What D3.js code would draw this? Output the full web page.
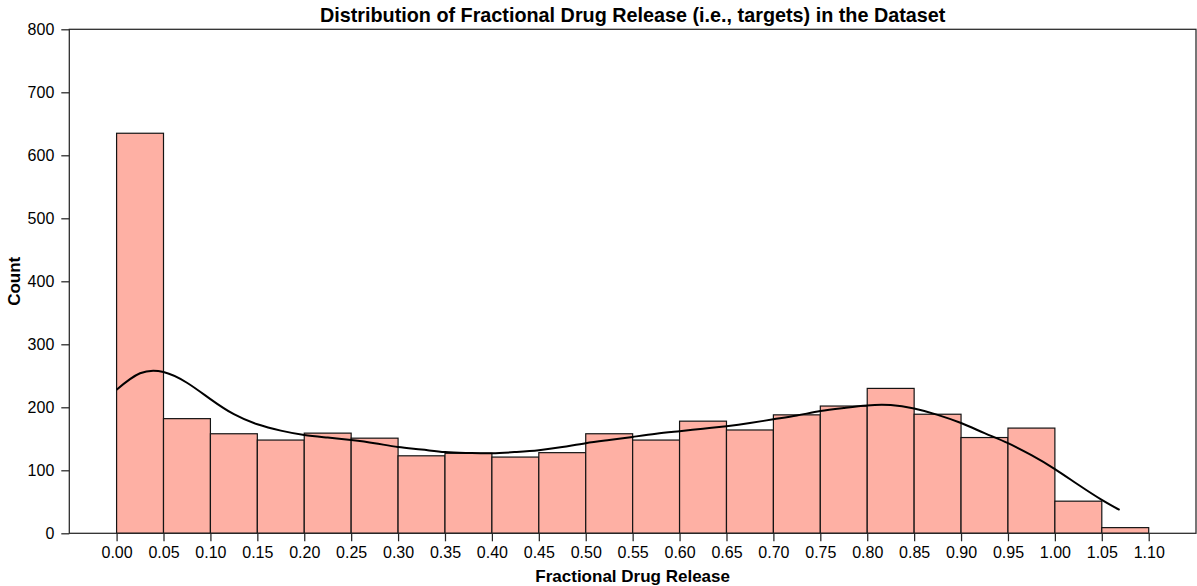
<!DOCTYPE html>
<html>
<head>
<meta charset="utf-8">
<script src="https://cdn.jsdelivr.net/npm/d3@7"></script>
<style>
  html, body { margin: 0; padding: 0; background: #fff; }
  svg { display: block; font-family: "Liberation Sans", Arial, Helvetica, sans-serif; }
</style>
</head>
<body>
<svg id="chart" width="1197" height="586"></svg>
<script>
// Histogram bins (left edges) of fractional drug release and their counts
const binStarts = [0.00, 0.05, 0.10, 0.15, 0.20, 0.25, 0.30, 0.35, 0.40, 0.45, 0.50,
                   0.55, 0.60, 0.65, 0.70, 0.75, 0.80, 0.85, 0.90, 0.95, 1.00, 1.05];
const binWidth = 0.05;
const counts = [635, 182, 158, 148, 159, 151, 123, 127, 121, 128, 158,
                148, 178, 164, 188, 202, 230, 189, 152, 167, 51, 9];

// Kernel density estimate, scaled to counts
const kdeX = [0.000, 0.025, 0.050, 0.075, 0.100, 0.125, 0.150, 0.175, 0.200, 0.225,
              0.250, 0.275, 0.300, 0.325, 0.350, 0.375, 0.400, 0.425, 0.450, 0.475,
              0.500, 0.525, 0.550, 0.575, 0.600, 0.625, 0.650, 0.675, 0.700, 0.725,
              0.750, 0.775, 0.800, 0.825, 0.850, 0.875, 0.900, 0.925, 0.950, 0.975,
              1.000, 1.025, 1.050, 1.069];
const kdeY = [228, 254, 256, 239, 213, 189, 173, 163, 156, 152,
              148, 143, 137, 133, 129, 127.5, 127, 129, 132, 137,
              143, 148, 153, 158, 162, 166, 170, 175, 181, 187,
              194, 199, 203, 203.5, 198, 188, 175, 159, 143, 124,
              102, 77, 53, 37];

// Axis ticks
const xTicks = [0.00, 0.05, 0.10, 0.15, 0.20, 0.25, 0.30, 0.35, 0.40, 0.45, 0.50, 0.55,
                0.60, 0.65, 0.70, 0.75, 0.80, 0.85, 0.90, 0.95, 1.00, 1.05, 1.10];
const yTicks = [0, 100, 200, 300, 400, 500, 600, 700, 800];

const chartTitle = "Distribution of Fractional Drug Release (i.e., targets) in the Dataset";
const xLabel = "Fractional Drug Release";
const yLabel = "Count";

const svg = d3.select("#chart");
const plotLeft = 69.3, plotRight = 1196, plotTop = 29.3, plotBottom = 533.3;

const x = d3.scaleLinear().domain([-0.0504, 1.1504]).range([plotLeft, plotRight]);
const y = d3.scaleLinear().domain([0, 800]).range([plotBottom, plotTop]);

// Bars
svg.append("g")
  .selectAll("rect")
  .data(binStarts.map((b, i) => ({ x0: b, x1: b + binWidth, c: counts[i] })))
  .join("rect")
  .attr("x", d => x(d.x0))
  .attr("y", d => y(d.c))
  .attr("width", d => x(d.x1) - x(d.x0))
  .attr("height", d => y(0) - y(d.c))
  .attr("fill", "#feb0a4")
  .attr("stroke", "#141414")
  .attr("stroke-width", 1.2);

// KDE curve
const line = d3.line()
  .x(d => x(d[0]))
  .y(d => y(d[1]))
  .curve(d3.curveNatural);
svg.append("path")
  .datum(kdeX.map((v, i) => [v, kdeY[i]]))
  .attr("d", line)
  .attr("fill", "none")
  .attr("stroke", "#000")
  .attr("stroke-width", 2);

// Axes
const xAxis = d3.axisBottom(x).tickValues(xTicks).tickFormat(d3.format(".2f"))
  .tickSize(8).tickPadding(5);
const yAxis = d3.axisLeft(y).tickValues(yTicks).tickFormat(d3.format("d"))
  .tickSize(8).tickPadding(7);

const gx = svg.append("g").attr("transform", `translate(0,${plotBottom})`).call(xAxis);
const gy = svg.append("g").attr("transform", `translate(${plotLeft},0)`).call(yAxis);
[gx, gy].forEach(g => {
  g.select(".domain").remove();
  g.selectAll(".tick line").attr("stroke", "#262626").attr("stroke-width", 1.25);
  g.selectAll(".tick text").attr("fill", "#000").style("font-size", "16px")
    .style("font-family", "'Liberation Sans', Arial, sans-serif");
});

// Frame
svg.append("rect")
  .attr("x", plotLeft).attr("y", plotTop)
  .attr("width", plotRight - plotLeft).attr("height", plotBottom - plotTop)
  .attr("fill", "none").attr("stroke", "#262626").attr("stroke-width", 1.25);

// Labels
svg.append("text")
  .attr("x", (plotLeft + plotRight) / 2).attr("y", 22)
  .attr("text-anchor", "middle")
  .style("font-size", "19.8px").style("font-weight", "bold")
  .text(chartTitle);

svg.append("text")
  .attr("x", (plotLeft + plotRight) / 2).attr("y", 582)
  .attr("text-anchor", "middle")
  .style("font-size", "17px").style("font-weight", "bold")
  .text(xLabel);

svg.append("text")
  .attr("transform", `translate(20,${(plotTop + plotBottom) / 2}) rotate(-90)`)
  .attr("text-anchor", "middle")
  .style("font-size", "17px").style("font-weight", "bold")
  .text(yLabel);
</script>
</body>
</html>
